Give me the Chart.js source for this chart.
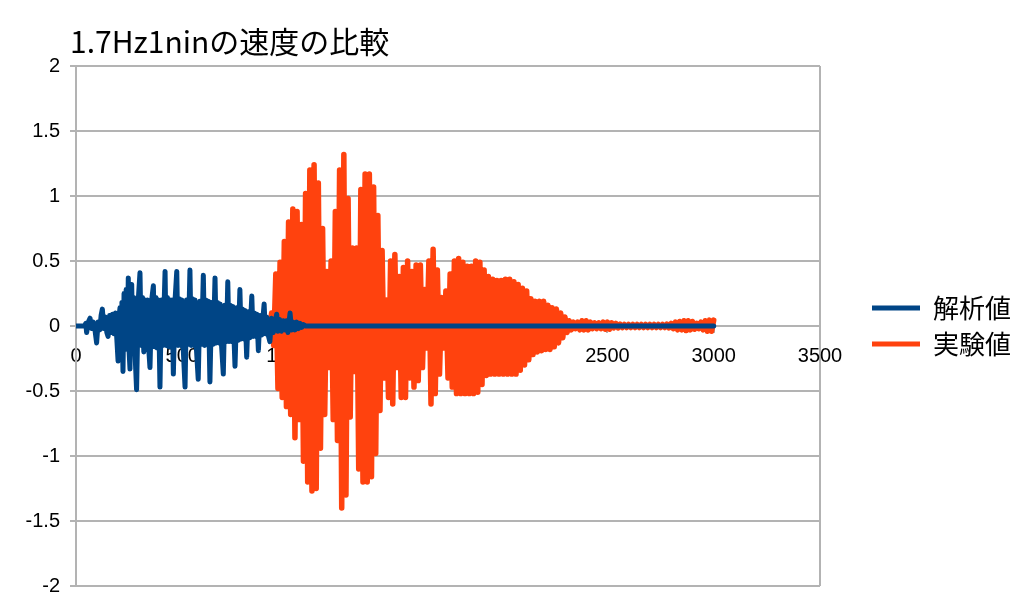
<!DOCTYPE html>
<html>
<head>
<meta charset="utf-8">
<script src="https://cdn.jsdelivr.net/npm/chart.js@4/dist/chart.umd.min.js"></script>
<style>
  html, body { margin: 0; padding: 0; background: #fff; }
  #wrap { width: 1012px; height: 608px; }
</style>
</head>
<body>
<div id="wrap"><canvas id="chart" width="1012" height="608"></canvas></div>
<script>
const titleText = '1.7Hz1ninの速度の比較';
const seriesNames = ['解析値', '実験値'];
const xTicks = [0, 500, 1000, 1500, 2000, 2500, 3000, 3500];
const yTicks = [-2, -1.5, -1, -0.5, 0, 0.5, 1, 1.5, 2];

// 解析値 (analysis)
const blueX = [0,10,20,30,40,46,50,58,66,74,82,90,97,104,112,118,124,131,138,145,151,158,165,172,179,186,192,198,203,207,212,216,221,226,231,236,241,246,250,254,258,262,267,272,278,285,293,301,307,313,319,325,331,337,342,348,356,364,370,376,382,388,395,402,409,419,424,430,436,442,448,452,458,466,474,480,486,492,498,504,513,520,528,536,542,548,554,560,566,575,583,591,599,605,611,617,623,630,638,646,654,660,666,672,678,684,693,700,708,714,720,726,732,738,748,756,764,771,777,783,789,795,803,810,818,827,833,839,845,851,858,865,873,885,891,897,903,912,920,928,944,950,958,966,975,983,990,997,1007,1014,1022,1030,1038,1046,1054,1062,1070,1080,2000,3000];
const blueY = [0,0,0,0,0,0.02,-0.05,0.03,0.06,-0.02,0.03,-0.04,-0.13,0.03,-0.03,0.08,0.13,-0.02,0.07,-0.05,-0.08,0.08,-0.05,0.09,-0.06,0.1,-0.1,-0.27,0.08,0.14,-0.12,0.18,-0.35,0.25,-0.15,0.28,-0.18,0.37,-0.2,-0.33,0.27,0.32,-0.2,0.22,-0.22,-0.49,0.2,0.41,-0.15,0.22,-0.2,0.2,-0.18,0.2,-0.17,-0.32,0.2,0.31,-0.16,0.22,-0.17,0.2,-0.47,0.2,-0.15,0.42,-0.15,0.22,-0.16,0.2,-0.15,0.2,-0.37,0.2,0.42,-0.15,0.21,-0.15,0.2,-0.16,-0.47,0.2,-0.14,0.43,-0.15,0.21,-0.15,0.2,-0.16,-0.41,0.19,-0.14,0.39,-0.15,0.2,-0.14,0.19,-0.43,0.18,-0.14,0.37,-0.13,0.18,-0.13,0.17,-0.13,-0.37,0.16,-0.12,0.34,-0.12,0.16,-0.12,0.15,-0.31,0.14,-0.11,0.28,-0.1,0.13,-0.1,0.12,-0.24,0.11,-0.09,0.23,-0.08,0.1,-0.08,0.09,-0.19,0.08,-0.07,0.17,-0.06,0.07,-0.06,-0.12,0.06,-0.05,0.09,-0.04,0.05,-0.04,0.04,-0.03,0.04,-0.05,0.1,-0.03,0.03,-0.03,0.03,-0.02,0.02,-0.01,0.01,0,0,0];

// 実験値 (experiment)
const redX = [890,900,910,920,930,940,950,960,970,980,990,1000,1010,1020,1030,1040,1050,1060,1070,1080,1090,1100,1110,1120,1130,1140,1150,1160,1170,1180,1190,1200,1210,1220,1230,1240,1250,1260,1270,1280,1290,1300,1310,1320,1330,1340,1350,1360,1370,1380,1390,1400,1410,1420,1430,1440,1450,1460,1470,1480,1490,1500,1510,1520,1530,1540,1550,1560,1570,1580,1590,1600,1610,1620,1630,1640,1650,1660,1670,1680,1690,1700,1710,1720,1730,1740,1750,1760,1770,1780,1790,1800,1810,1820,1830,1840,1850,1860,1870,1880,1890,1900,1910,1920,1930,1940,1950,1960,1970,1980,1990,2000,2010,2020,2030,2040,2050,2060,2070,2080,2090,2100,2110,2120,2130,2140,2150,2160,2170,2180,2190,2200,2210,2220,2230,2240,2250,2260,2270,2280,2290,2300,2310,2320,2330,2340,2350,2360,2370,2380,2390,2400,2410,2420,2430,2440,2450,2460,2470,2480,2490,2500,2510,2520,2530,2540,2550,2560,2570,2580,2590,2600,2610,2620,2630,2640,2650,2660,2670,2680,2690,2700,2710,2720,2730,2740,2750,2760,2770,2780,2790,2800,2810,2820,2830,2840,2850,2860,2870,2880,2890,2900,2910,2920,2930,2940,2950,2960,2970,2980,2990,3000];
const redY = [0,0.02,-0.05,0.10,-0.15,0.40,-0.48,0.49,-0.55,0.65,-0.62,0.80,-0.68,0.90,-0.86,0.88,-0.72,0.78,-1.04,1.02,-1.20,1.20,-1.27,1.24,-1.25,1.10,-0.94,0.75,-0.68,0.42,-0.32,0.50,-0.72,0.88,-0.88,1.20,-1.40,1.32,-1.30,0.98,-0.70,0.60,-0.35,0.60,-1.10,1.05,-1.20,1.17,-1.20,1.17,-1.16,1.07,-0.98,0.85,-0.65,0.58,-0.40,0.20,-0.55,0.50,-0.60,0.55,-0.32,0.38,-0.55,0.45,-0.55,0.50,-0.40,0.42,-0.47,0.47,-0.42,0.47,-0.32,0.28,-0.17,0.50,-0.60,0.59,-0.52,0.43,-0.37,0.22,-0.17,0.27,-0.40,0.40,-0.47,0.50,-0.52,0.52,-0.52,0.49,-0.52,0.46,-0.52,0.46,-0.52,0.50,-0.51,0.49,-0.45,0.43,-0.38,0.38,-0.37,0.36,-0.37,0.35,-0.37,0.35,-0.37,0.36,-0.37,0.36,-0.37,0.34,-0.37,0.32,-0.34,0.29,-0.30,0.27,-0.26,0.21,-0.22,0.19,-0.20,0.19,-0.19,0.19,-0.18,0.16,-0.18,0.14,-0.16,0.13,-0.13,0.10,-0.09,0.07,-0.05,0.04,-0.03,0.03,-0.02,0.03,-0.03,0.04,-0.03,0.04,-0.03,0.03,-0.02,0.025,-0.02,0.025,-0.02,0.03,-0.025,0.03,-0.025,0.025,-0.015,0.02,-0.015,0.015,-0.012,0.012,-0.012,0.012,-0.012,0.012,-0.012,0.012,-0.012,0.012,-0.012,0.012,-0.012,0.012,-0.012,0.012,-0.012,0.012,-0.012,0.012,-0.012,0.015,-0.015,0.02,-0.02,0.03,-0.03,0.035,-0.03,0.04,-0.035,0.04,-0.03,0.035,-0.025,0.02,-0.02,0.03,-0.03,0.04,-0.04,0.045,-0.04,0.045,-0.04,0.03];

const BLUE = '#004586';
const ORANGE = '#ff420e';
const GRID = '#b3b3b3';
const FONT = "'Liberation Sans', Arial, sans-serif";
const CJK = "'Noto Sans CJK JP', sans-serif";

function toPoints(xs, ys) {
  return xs.map((x, i) => ({ x: x, y: ys[i] }));
}

// legend sits 52px right of the plot, title a bit left of it
const placeBoxes = {
  id: 'placeBoxes',
  beforeLayout(chart) {
    const lg = chart.legend;
    if (lg && !lg._fixedWidth) {
      const fit = lg.fit.bind(lg);
      lg.fit = function () { fit(); this.width = 192; };
      lg._fixedWidth = true;
    }
  },
  afterLayout(chart) {
    if (chart.legend) chart.legend.left = chart.chartArea.right + 42;
    if (chart.titleBlock) chart.titleBlock.left = 70;
  },
};

const ctx = document.getElementById('chart').getContext('2d');
new Chart(ctx, {
  type: 'line',
  data: {
    datasets: [
      {
        label: seriesNames[0],
        data: toPoints(blueX, blueY),
        borderColor: BLUE,
        backgroundColor: BLUE,
        borderWidth: 5,
        pointRadius: 0,
        tension: 0,
        borderJoinStyle: 'round',
        borderCapStyle: 'round',
      },
      {
        label: seriesNames[1],
        data: toPoints(redX, redY),
        borderColor: ORANGE,
        backgroundColor: ORANGE,
        borderWidth: 5.5,
        pointRadius: 0,
        tension: 0,
        borderJoinStyle: 'round',
        borderCapStyle: 'round',
      },
    ],
  },
  plugins: [placeBoxes],
  options: {
    responsive: false,
    animation: false,
    layout: { padding: 0 },
    plugins: {
      title: {
        display: true,
        text: titleText,
        align: 'start',
        fullSize: false,
        color: '#000',
        font: { family: CJK, size: 30, weight: 'normal' },
        padding: { top: 24, bottom: 6 },
      },
      legend: {
        position: 'right',
        align: 'center',
        fullSize: false,
        labels: {
          boxWidth: 48,
          boxHeight: 5,
          padding: 10,
          color: '#000',
          font: { family: CJK, size: 26 },
          generateLabels: (chart) =>
            Chart.defaults.plugins.legend.labels.generateLabels(chart).map(l => ({ ...l, lineWidth: 0 })),
        },
      },
      tooltip: { enabled: false },
    },
    scales: {
      x: {
        type: 'linear',
        position: { y: 0 },
        min: 0,
        max: 3500,
        afterBuildTicks: (scale) => { scale.ticks = xTicks.map(v => ({ value: v })); },
        ticks: {
          color: '#000',
          font: { family: FONT, size: 20 },
          padding: 12,
          maxRotation: 0,
          callback: (v) => String(v),
        },
        grid: {
          color: (c) => (c.tick && c.tick.value === 3500 ? GRID : 'rgba(0,0,0,0)'),
          tickColor: GRID,
          lineWidth: 2,
          tickLength: 6,
        },
        border: { color: GRID, width: 2 },
      },
      y: {
        min: -2,
        max: 2,
        afterBuildTicks: (scale) => { scale.ticks = yTicks.map(v => ({ value: v })); },
        afterFit: (scale) => { scale.width = 76; },
        ticks: {
          color: '#000',
          font: { family: FONT, size: 20 },
          padding: 10,
          callback: (v) => String(v),
        },
        grid: { color: GRID, lineWidth: 2, tickLength: 6 },
        border: { color: GRID, width: 2 },
      },
    },
  },
});
</script>
</body>
</html>
